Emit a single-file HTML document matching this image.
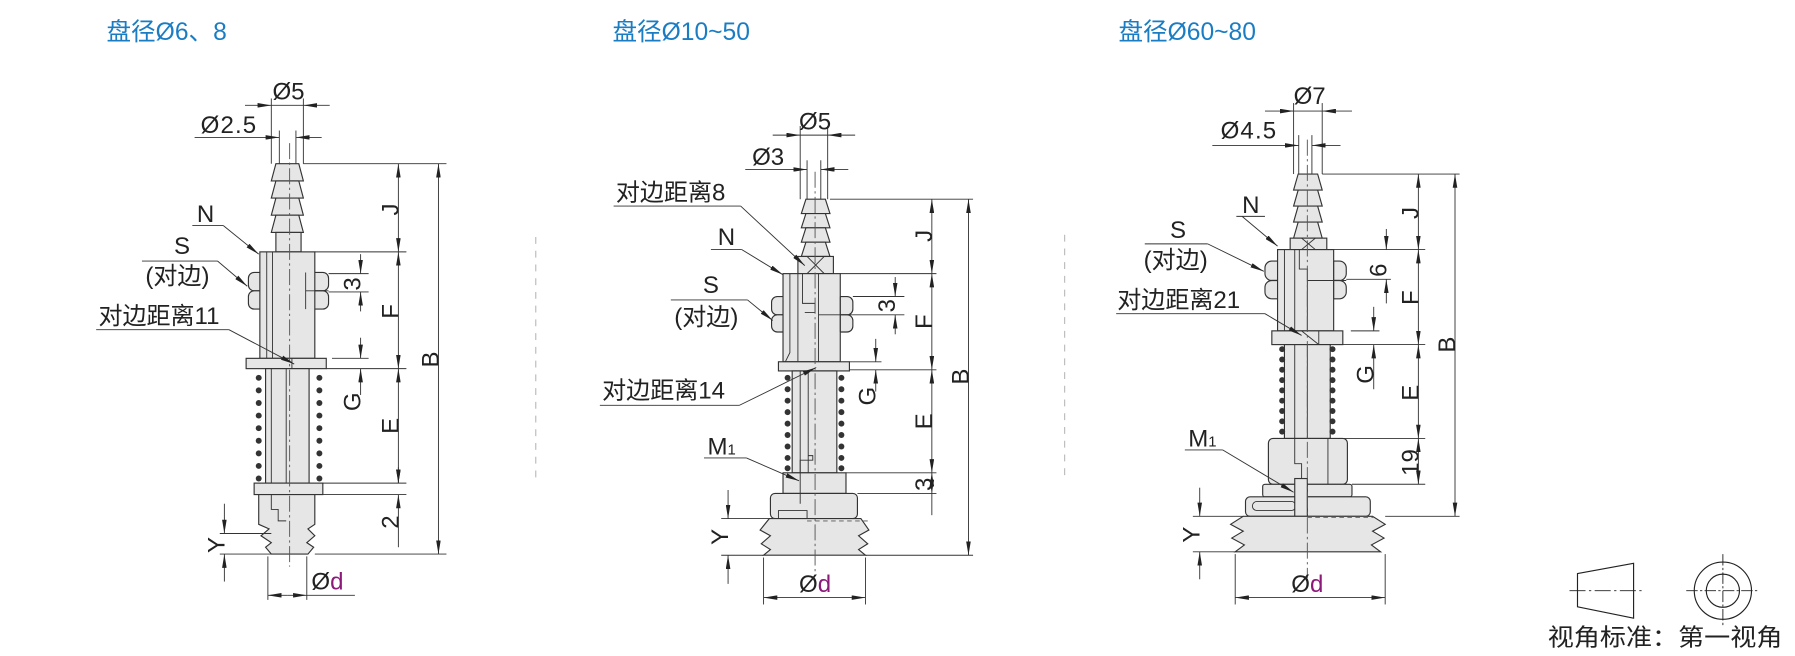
<!DOCTYPE html>
<html><head><meta charset="utf-8"><style>
html,body{margin:0;padding:0;background:#fff;}
svg{display:block;}
text{font-family:"Liberation Sans","Noto Sans CJK SC",sans-serif;fill:#222;}
.p{fill:#e6e6e6;stroke:#333;stroke-width:1;}
.l{stroke:#333;stroke-width:0.8;fill:none;}
.c{stroke:#555;stroke-width:0.8;fill:none;stroke-dasharray:14 3 2 3;}
.t{font-size:21px;}
.b{font-size:21.5px;fill:#1a7dc4;}
</style></head><body>
<svg width="1795" height="656" viewBox="0 0 1568 573" xmlns="http://www.w3.org/2000/svg">
<defs>
<marker id="a" viewBox="0 0 12 4" refX="12" refY="2" markerWidth="12" markerHeight="4" markerUnits="userSpaceOnUse" orient="auto-start-reverse"><path d="M0,0L12,2L0,4z" fill="#222"/></marker>
</defs>

<text class="b" x="93" y="35">盘径Ø6、8</text>
<text class="b" x="535" y="35">盘径Ø10~50</text>
<text class="b" x="977" y="35">盘径Ø60~80</text>

<line x1="468" y1="207" x2="468" y2="420" stroke="#bbb" stroke-dasharray="6 6"/>
<line x1="930" y1="205" x2="930" y2="420" stroke="#bbb" stroke-dasharray="6 6"/>

<!-- ============ DRAWING 1 ============ -->
<g>
<polygon class="p" points="241,143 261,143 265,158 237,158"/>
<polygon class="p" points="241,158 261,158 265,173 237,173"/>
<polygon class="p" points="241,173 261,173 265,188 237,188"/>
<polygon class="p" points="241,188 261,188 265,203 237,203"/>
<rect class="p" x="241" y="203" width="22" height="17"/>
<rect class="p" x="217" y="238" width="70" height="16" rx="5"/>
<rect class="p" x="217" y="254" width="70" height="16" rx="5"/>
<rect class="p" x="227" y="220" width="48" height="93"/>
<line class="l" x1="233" y1="220" x2="233" y2="313"/><line class="l" x1="238" y1="220" x2="238" y2="313"/>
<line class="l" x1="267" y1="238" x2="267" y2="270"/><line class="l" x1="267" y1="254" x2="287" y2="254"/>
<rect class="p" x="215" y="313" width="70" height="9"/>
<line class="l" x1="255" y1="313" x2="255" y2="322"/>
<rect class="p" x="232" y="322" width="38" height="100"/>
<line class="l" x1="237" y1="322" x2="237" y2="422"/><line class="l" x1="250" y1="322" x2="250" y2="460"/>
<rect class="p" x="222" y="422" width="60" height="10"/>
<polygon class="p" points="226,432 275,432 275,458 269,462 275,468 268,474 274,478 269,484 237,484 232,478 237,474 228,468 235,462 226,458"/>
<polyline class="l" points="237,432 237,445 243,445 243,455 250,455"/>
<line class="c" x1="253" y1="125" x2="253" y2="495"/>
<g fill="#333"><circle cx="226" cy="330" r="2.6"/><circle cx="226" cy="341" r="2.6"/><circle cx="226" cy="352" r="2.6"/><circle cx="226" cy="363" r="2.6"/><circle cx="226" cy="374" r="2.6"/><circle cx="226" cy="385" r="2.6"/><circle cx="226" cy="396" r="2.6"/><circle cx="226" cy="407" r="2.6"/><circle cx="226" cy="418" r="2.6"/>
<circle cx="279" cy="330" r="2.6"/><circle cx="279" cy="341" r="2.6"/><circle cx="279" cy="352" r="2.6"/><circle cx="279" cy="363" r="2.6"/><circle cx="279" cy="374" r="2.6"/><circle cx="279" cy="385" r="2.6"/><circle cx="279" cy="396" r="2.6"/><circle cx="279" cy="407" r="2.6"/><circle cx="279" cy="418" r="2.6"/></g>
<line class="l" x1="237" y1="86" x2="237" y2="143"/><line class="l" x1="265" y1="86" x2="265" y2="143"/>
<line class="l" x1="244" y1="114" x2="244" y2="143"/><line class="l" x1="258.5" y1="114" x2="258.5" y2="143"/>
<line class="l" x1="214" y1="92" x2="237" y2="92" marker-end="url(#a)"/><line class="l" x1="288" y1="92" x2="265" y2="92" marker-end="url(#a)"/><line class="l" x1="237" y1="92" x2="265" y2="92"/>
<line class="l" x1="170" y1="120" x2="244" y2="120" marker-end="url(#a)"/><line class="l" x1="281" y1="120" x2="258.5" y2="120" marker-end="url(#a)"/>
<text class="t" x="252" y="87" text-anchor="middle">Ø5</text>
<text class="t" x="200" y="116" text-anchor="middle" letter-spacing="1">Ø2.5</text>
<line class="l" x1="265" y1="143" x2="390" y2="143"/>
<line class="l" x1="275" y1="220" x2="355" y2="220"/>
<line class="l" x1="287" y1="239" x2="322" y2="239"/><line class="l" x1="287" y1="255" x2="322" y2="255"/>
<line class="l" x1="290" y1="313" x2="322" y2="313"/>
<line class="l" x1="285" y1="322" x2="355" y2="322"/>
<line class="l" x1="282" y1="422" x2="355" y2="422"/><line class="l" x1="282" y1="432" x2="355" y2="432"/>
<line class="l" x1="275" y1="484" x2="390" y2="484"/>
<line class="l" x1="348" y1="143" x2="348" y2="220" marker-start="url(#a)" marker-end="url(#a)"/>
<line class="l" x1="348" y1="220" x2="348" y2="322" marker-start="url(#a)" marker-end="url(#a)"/>
<line class="l" x1="348" y1="322" x2="348" y2="422" marker-start="url(#a)" marker-end="url(#a)"/>
<line class="l" x1="348" y1="478" x2="348" y2="432" marker-end="url(#a)"/><line class="l" x1="348" y1="408" x2="348" y2="422" marker-end="url(#a)"/>
<line class="l" x1="383" y1="143" x2="383" y2="484" marker-start="url(#a)" marker-end="url(#a)"/>
<line class="l" x1="315" y1="222" x2="315" y2="239" marker-end="url(#a)"/><line class="l" x1="315" y1="272" x2="315" y2="255" marker-end="url(#a)"/>
<line class="l" x1="315" y1="295" x2="315" y2="313" marker-end="url(#a)"/><line class="l" x1="315" y1="345" x2="315" y2="322" marker-end="url(#a)"/>
<text class="t" transform="translate(348,183) rotate(-90)" text-anchor="middle">J</text>
<text class="t" transform="translate(348,272) rotate(-90)" text-anchor="middle">F</text>
<text class="t" transform="translate(348,372) rotate(-90)" text-anchor="middle">E</text>
<text class="t" transform="translate(348,456) rotate(-90)" text-anchor="middle">2</text>
<text class="t" transform="translate(383,314) rotate(-90)" text-anchor="middle">B</text>
<text class="t" transform="translate(315,248) rotate(-90)" text-anchor="middle">3</text>
<text class="t" transform="translate(315,351) rotate(-90)" text-anchor="middle">G</text>
<line class="l" x1="192" y1="466" x2="237" y2="466"/><line class="l" x1="192" y1="484" x2="237" y2="484"/>
<line class="l" x1="196" y1="440" x2="196" y2="466" marker-end="url(#a)"/><line class="l" x1="196" y1="508" x2="196" y2="484" marker-end="url(#a)"/>
<text class="t" transform="translate(196,476) rotate(-90)" text-anchor="middle">Y</text>
<line class="l" x1="234" y1="486" x2="234" y2="524"/><line class="l" x1="268" y1="486" x2="268" y2="524"/>
<line class="l" x1="251" y1="520" x2="234" y2="520" marker-end="url(#a)"/><line class="l" x1="251" y1="520" x2="268" y2="520" marker-end="url(#a)"/><line class="l" x1="268" y1="520" x2="310" y2="520"/>
<text class="t" x="272" y="515">Ø<tspan fill="#8b1a7a">d</tspan></text>
<text class="t" x="172" y="194">N</text>
<line class="l" x1="168" y1="197" x2="195" y2="197"/><line class="l" x1="195" y1="197" x2="226" y2="222" marker-end="url(#a)"/>
<text class="t" x="152" y="222">S</text>
<text class="t" x="127" y="248">(对边)</text>
<line class="l" x1="124" y1="228" x2="190" y2="228"/><line class="l" x1="190" y1="228" x2="216" y2="250" marker-end="url(#a)"/>
<text class="t" x="86" y="283">对边距离11</text>
<line class="l" x1="84" y1="288" x2="200" y2="288"/><line class="l" x1="200" y1="288" x2="257" y2="318" marker-end="url(#a)"/>
</g>

<!-- ============ DRAWING 2 ============ -->
<g>
<polygon class="p" points="704,174 721,174 725,186.5 700,186.5"/>
<polygon class="p" points="704,186.5 721,186.5 725,199 700,199"/>
<polygon class="p" points="704,199 721,199 725,211.5 700,211.5"/>
<polygon class="p" points="704,211.5 721,211.5 725,224 700,224"/>
<rect class="p" x="697" y="224" width="31" height="15"/>
<line class="l" x1="705" y1="224" x2="720" y2="239"/><line class="l" x1="720" y1="224" x2="705" y2="239"/>
<rect class="p" x="674" y="259" width="71" height="16" rx="5"/>
<rect class="p" x="674" y="275" width="71" height="15" rx="5"/>
<rect class="p" x="684" y="239" width="50" height="77"/>
<polyline class="l" points="690,239 690,308 686,316"/>
<line class="l" x1="697" y1="239" x2="697" y2="316"/>
<polyline class="l" points="701,239 701,265 712,265 712,273 703,273"/>
<line class="l" x1="715" y1="239" x2="715" y2="316"/>
<line class="l" x1="734" y1="259" x2="734" y2="290"/><line class="l" x1="715" y1="275" x2="745" y2="275"/>
<rect class="p" x="680" y="316" width="62" height="8"/>
<rect class="p" x="692" y="324" width="39" height="89"/>
<line class="l" x1="699" y1="324" x2="699" y2="440"/><line class="l" x1="706" y1="324" x2="706" y2="440"/>
<rect class="p" x="684" y="413" width="55" height="18"/>
<rect class="p" x="673" y="431" width="76" height="22" rx="4"/>
<polygon class="p" points="672,453 752,453 759,463 750,468 758,475 750,480 756,485 667,485 673,480 665,475 673,468 664,463"/>
<polyline class="l" points="680,453 680,446 705,446 705,453"/>
<polyline class="l" points="699,440 699,402 710,402 710,398 706,398"/>
<line x1="705" y1="455" x2="760" y2="455" stroke="#777" stroke-dasharray="4 3"/>
<line class="c" x1="712" y1="150" x2="712" y2="500"/>
<g fill="#333"><circle cx="688" cy="330" r="2.6"/><circle cx="688" cy="340" r="2.6"/><circle cx="688" cy="350" r="2.6"/><circle cx="688" cy="360" r="2.6"/><circle cx="688" cy="370" r="2.6"/><circle cx="688" cy="380" r="2.6"/><circle cx="688" cy="390" r="2.6"/><circle cx="688" cy="400" r="2.6"/><circle cx="688" cy="409" r="2.6"/>
<circle cx="735" cy="330" r="2.6"/><circle cx="735" cy="340" r="2.6"/><circle cx="735" cy="350" r="2.6"/><circle cx="735" cy="360" r="2.6"/><circle cx="735" cy="370" r="2.6"/><circle cx="735" cy="380" r="2.6"/><circle cx="735" cy="390" r="2.6"/><circle cx="735" cy="400" r="2.6"/><circle cx="735" cy="409" r="2.6"/></g>
<line class="l" x1="699" y1="110" x2="699" y2="174"/><line class="l" x1="723" y1="110" x2="723" y2="174"/>
<line class="l" x1="705" y1="140" x2="705" y2="174"/><line class="l" x1="717" y1="140" x2="717" y2="174"/>
<line class="l" x1="675" y1="118" x2="699" y2="118" marker-end="url(#a)"/><line class="l" x1="747" y1="118" x2="723" y2="118" marker-end="url(#a)"/><line class="l" x1="699" y1="118" x2="723" y2="118"/>
<line class="l" x1="651" y1="148" x2="705" y2="148" marker-end="url(#a)"/><line class="l" x1="741" y1="148" x2="717" y2="148" marker-end="url(#a)"/>
<text class="t" x="712" y="113" text-anchor="middle">Ø5</text>
<text class="t" x="671" y="144" text-anchor="middle">Ø3</text>
<line class="l" x1="725" y1="174" x2="850" y2="174"/>
<line class="l" x1="734" y1="239" x2="818" y2="239"/>
<line class="l" x1="745" y1="259" x2="790" y2="259"/><line class="l" x1="745" y1="275" x2="790" y2="275"/>
<line class="l" x1="742" y1="316" x2="770" y2="316"/><line class="l" x1="742" y1="323" x2="818" y2="323"/>
<line class="l" x1="739" y1="413" x2="818" y2="413"/><line class="l" x1="749" y1="431" x2="818" y2="431"/>
<line class="l" x1="756" y1="485" x2="850" y2="485"/>
<line class="l" x1="814" y1="174" x2="814" y2="239" marker-start="url(#a)" marker-end="url(#a)"/>
<line class="l" x1="814" y1="239" x2="814" y2="323" marker-start="url(#a)" marker-end="url(#a)"/>
<line class="l" x1="814" y1="323" x2="814" y2="413" marker-start="url(#a)" marker-end="url(#a)"/>
<line class="l" x1="814" y1="413" x2="814" y2="431" marker-start="url(#a)" marker-end="url(#a)"/>
<line class="l" x1="814" y1="431" x2="814" y2="450"/>
<line class="l" x1="846" y1="174" x2="846" y2="485" marker-start="url(#a)" marker-end="url(#a)"/>
<line class="l" x1="782" y1="242" x2="782" y2="259" marker-end="url(#a)"/><line class="l" x1="782" y1="292" x2="782" y2="275" marker-end="url(#a)"/>
<line class="l" x1="765" y1="296" x2="765" y2="316" marker-end="url(#a)"/><line class="l" x1="765" y1="342" x2="765" y2="323" marker-end="url(#a)"/>
<text class="t" transform="translate(814,206) rotate(-90)" text-anchor="middle">J</text>
<text class="t" transform="translate(814,281) rotate(-90)" text-anchor="middle">F</text>
<text class="t" transform="translate(814,368) rotate(-90)" text-anchor="middle">E</text>
<text class="t" transform="translate(814,423) rotate(-90)" text-anchor="middle">3</text>
<text class="t" transform="translate(846,329) rotate(-90)" text-anchor="middle">B</text>
<text class="t" transform="translate(782,267) rotate(-90)" text-anchor="middle">3</text>
<text class="t" transform="translate(765,346) rotate(-90)" text-anchor="middle">G</text>
<line class="l" x1="630" y1="453" x2="672" y2="453"/><line class="l" x1="630" y1="485" x2="667" y2="485"/>
<line class="l" x1="636" y1="428" x2="636" y2="453" marker-end="url(#a)"/><line class="l" x1="636" y1="510" x2="636" y2="485" marker-end="url(#a)"/>
<text class="t" transform="translate(636,469) rotate(-90)" text-anchor="middle">Y</text>
<line class="l" x1="667" y1="487" x2="667" y2="528"/><line class="l" x1="756" y1="487" x2="756" y2="528"/>
<line class="l" x1="667" y1="522" x2="756" y2="522" marker-start="url(#a)" marker-end="url(#a)"/>
<text class="t" x="712" y="517" text-anchor="middle">Ø<tspan fill="#8b1a7a">d</tspan></text>
<text class="t" x="538" y="175">对边距离8</text>
<line class="l" x1="536" y1="180" x2="647" y2="180"/><line class="l" x1="647" y1="180" x2="703" y2="232" marker-end="url(#a)"/>
<text class="t" x="627" y="214">N</text>
<line class="l" x1="621" y1="218" x2="648" y2="218"/><line class="l" x1="648" y1="218" x2="684" y2="240" marker-end="url(#a)"/>
<text class="t" x="614" y="256">S</text>
<text class="t" x="589" y="284">(对边)</text>
<line class="l" x1="586" y1="262" x2="653" y2="262"/><line class="l" x1="653" y1="262" x2="675" y2="280" marker-end="url(#a)"/>
<text class="t" x="526" y="348">对边距离14</text>
<line class="l" x1="524" y1="354" x2="646" y2="354"/><line class="l" x1="646" y1="354" x2="713" y2="321" marker-end="url(#a)"/>
<text class="t" x="618" y="397">M<tspan font-size="13">1</tspan></text>
<line class="l" x1="615" y1="400" x2="652" y2="400"/><line class="l" x1="652" y1="400" x2="698" y2="420" marker-end="url(#a)"/>
</g>

<!-- ============ DRAWING 3 ============ -->
<g>
<polygon class="p" points="1134,152 1151,152 1155,166 1130,166"/>
<polygon class="p" points="1134,166 1151,166 1155,180 1130,180"/>
<polygon class="p" points="1134,180 1151,180 1155,194 1130,194"/>
<polygon class="p" points="1134,194 1151,194 1155,208 1130,208"/>
<rect class="p" x="1127" y="208" width="32" height="10"/>
<line class="l" x1="1137" y1="208" x2="1149" y2="218"/><line class="l" x1="1149" y1="208" x2="1137" y2="218"/>
<rect class="p" x="1105" y="228" width="71" height="17" rx="6"/>
<rect class="p" x="1105" y="245" width="71" height="16" rx="6"/>
<rect class="p" x="1116" y="218" width="49" height="71"/>
<line class="l" x1="1122" y1="218" x2="1122" y2="289"/><line class="l" x1="1131" y1="218" x2="1131" y2="289"/>
<polyline class="l" points="1135,218 1135,235 1142,235 1142,440"/>
<line class="l" x1="1165" y1="228" x2="1165" y2="261"/><line class="l" x1="1142" y1="245" x2="1176" y2="245"/>
<rect class="p" x="1111" y="289" width="62" height="12"/>
<line class="l" x1="1152" y1="289" x2="1152" y2="301"/><line class="l" x1="1137" y1="289" x2="1152" y2="301"/>
<rect class="p" x="1122" y="301" width="40" height="82"/>
<line class="l" x1="1131" y1="301" x2="1131" y2="440"/><line class="l" x1="1142" y1="301" x2="1142" y2="383"/>
<rect class="p" x="1108" y="383" width="69" height="40" rx="4"/>
<line class="l" x1="1160" y1="383" x2="1160" y2="423"/>
<polyline class="l" points="1131,383 1131,405 1137,405 1137,440"/>
<rect class="p" x="1103" y="423" width="78" height="11" rx="2"/>
<rect class="p" x="1088" y="434" width="109" height="17" rx="4"/>
<rect class="l" x="1094" y="438" width="38" height="8" rx="4"/>
<rect class="p" x="1131" y="418" width="11" height="33"/>
<polygon class="p" points="1086,451 1199,451 1210,458 1199,464 1209,470 1198,476 1206,482 1079,482 1087,476 1076,470 1086,464 1075,458"/>
<line x1="1142" y1="452" x2="1200" y2="452" stroke="#777" stroke-dasharray="4 3"/>
<line class="c" x1="1142" y1="122" x2="1142" y2="505"/>
<g fill="#333"><circle cx="1120" cy="305" r="2.6"/><circle cx="1120" cy="314" r="2.6"/><circle cx="1120" cy="323" r="2.6"/><circle cx="1120" cy="332" r="2.6"/><circle cx="1120" cy="341" r="2.6"/><circle cx="1120" cy="350" r="2.6"/><circle cx="1120" cy="359" r="2.6"/><circle cx="1120" cy="368" r="2.6"/><circle cx="1120" cy="377" r="2.6"/>
<circle cx="1164" cy="305" r="2.6"/><circle cx="1164" cy="314" r="2.6"/><circle cx="1164" cy="323" r="2.6"/><circle cx="1164" cy="332" r="2.6"/><circle cx="1164" cy="341" r="2.6"/><circle cx="1164" cy="350" r="2.6"/><circle cx="1164" cy="359" r="2.6"/><circle cx="1164" cy="368" r="2.6"/><circle cx="1164" cy="377" r="2.6"/></g>
<line class="l" x1="1130" y1="90" x2="1130" y2="152"/><line class="l" x1="1155" y1="90" x2="1155" y2="152"/>
<line class="l" x1="1134.5" y1="118" x2="1134.5" y2="152"/><line class="l" x1="1146" y1="118" x2="1146" y2="152"/>
<line class="l" x1="1105" y1="97" x2="1130" y2="97" marker-end="url(#a)"/><line class="l" x1="1181" y1="97" x2="1155" y2="97" marker-end="url(#a)"/><line class="l" x1="1130" y1="97" x2="1155" y2="97"/>
<line class="l" x1="1059" y1="127" x2="1134.5" y2="127" marker-end="url(#a)"/><line class="l" x1="1171" y1="127" x2="1146" y2="127" marker-end="url(#a)"/>
<text class="t" x="1144" y="91" text-anchor="middle">Ø7</text>
<text class="t" x="1091" y="121" text-anchor="middle" letter-spacing="1">Ø4.5</text>
<line class="l" x1="1155" y1="152" x2="1275" y2="152"/>
<line class="l" x1="1165" y1="218" x2="1245" y2="218"/>
<line class="l" x1="1176" y1="244" x2="1215" y2="244"/>
<line class="l" x1="1180" y1="289" x2="1205" y2="289"/>
<line class="l" x1="1173" y1="301" x2="1245" y2="301"/>
<line class="l" x1="1165" y1="383" x2="1245" y2="383"/>
<line class="l" x1="1181" y1="423" x2="1245" y2="423"/>
<line class="l" x1="1210" y1="451" x2="1275" y2="451"/>
<line class="l" x1="1239" y1="152" x2="1239" y2="218" marker-start="url(#a)" marker-end="url(#a)"/>
<line class="l" x1="1239" y1="218" x2="1239" y2="301" marker-start="url(#a)" marker-end="url(#a)"/>
<line class="l" x1="1239" y1="301" x2="1239" y2="383" marker-start="url(#a)" marker-end="url(#a)"/>
<line class="l" x1="1239" y1="383" x2="1239" y2="423" marker-start="url(#a)" marker-end="url(#a)"/>
<line class="l" x1="1271" y1="152" x2="1271" y2="451" marker-start="url(#a)" marker-end="url(#a)"/>
<line class="l" x1="1211" y1="200" x2="1211" y2="218" marker-end="url(#a)"/><line class="l" x1="1211" y1="265" x2="1211" y2="244" marker-end="url(#a)"/>
<line class="l" x1="1200" y1="268" x2="1200" y2="289" marker-end="url(#a)"/><line class="l" x1="1200" y1="340" x2="1200" y2="301" marker-end="url(#a)"/>
<text class="t" transform="translate(1239,186) rotate(-90)" text-anchor="middle">J</text>
<text class="t" transform="translate(1239,260) rotate(-90)" text-anchor="middle">F</text>
<text class="t" transform="translate(1239,343) rotate(-90)" text-anchor="middle">E</text>
<text class="t" transform="translate(1239,404) rotate(-90)" text-anchor="middle">19</text>
<text class="t" transform="translate(1271,301) rotate(-90)" text-anchor="middle">B</text>
<text class="t" transform="translate(1211,236) rotate(-90)" text-anchor="middle">6</text>
<text class="t" transform="translate(1200,327) rotate(-90)" text-anchor="middle">G</text>
<line class="l" x1="1042" y1="451" x2="1086" y2="451"/><line class="l" x1="1042" y1="482" x2="1079" y2="482"/>
<line class="l" x1="1048" y1="426" x2="1048" y2="451" marker-end="url(#a)"/><line class="l" x1="1048" y1="506" x2="1048" y2="482" marker-end="url(#a)"/>
<text class="t" transform="translate(1048,467) rotate(-90)" text-anchor="middle">Y</text>
<line class="l" x1="1079" y1="484" x2="1079" y2="528"/><line class="l" x1="1210" y1="484" x2="1210" y2="528"/>
<line class="l" x1="1079" y1="522" x2="1210" y2="522" marker-start="url(#a)" marker-end="url(#a)"/>
<text class="t" x="1142" y="517" text-anchor="middle">Ø<tspan fill="#8b1a7a">d</tspan></text>
<text class="t" x="1085" y="186">N</text>
<line class="l" x1="1080" y1="189" x2="1105" y2="189"/><line class="l" x1="1085" y1="189" x2="1116" y2="215" marker-end="url(#a)"/>
<text class="t" x="1022" y="208">S</text>
<text class="t" x="999" y="234">(对边)</text>
<line class="l" x1="1000" y1="213" x2="1055" y2="213"/><line class="l" x1="1055" y1="213" x2="1104" y2="237" marker-end="url(#a)"/>
<text class="t" x="976" y="269">对边距离21</text>
<line class="l" x1="975" y1="274" x2="1105" y2="274"/><line class="l" x1="1105" y1="274" x2="1137" y2="293" marker-end="url(#a)"/>
<text class="t" x="1038" y="390">M<tspan font-size="13">1</tspan></text>
<line class="l" x1="1035" y1="393" x2="1068" y2="393"/><line class="l" x1="1068" y1="393" x2="1130" y2="430" marker-end="url(#a)"/>
</g>

<g>
<polygon points="1378,501 1427,492 1427,540 1378,530" fill="none" stroke="#222" stroke-width="1"/>
<line x1="1371" y1="516" x2="1434" y2="516" stroke="#222" stroke-width="0.8" stroke-dasharray="14 3 2 3"/>
<circle cx="1505" cy="516" r="25" fill="none" stroke="#222" stroke-width="1"/>
<circle cx="1505" cy="516" r="14.5" fill="none" stroke="#222" stroke-width="1"/>
<line x1="1473" y1="516" x2="1537" y2="516" stroke="#222" stroke-width="0.8" stroke-dasharray="10 2 2 2"/>
<line x1="1505" y1="484" x2="1505" y2="548" stroke="#222" stroke-width="0.8" stroke-dasharray="10 2 2 2"/>
<text x="1352" y="564" font-size="21" textLength="205" lengthAdjust="spacingAndGlyphs">视角标准：第一视角</text>
</g>
</svg>
</body></html>
